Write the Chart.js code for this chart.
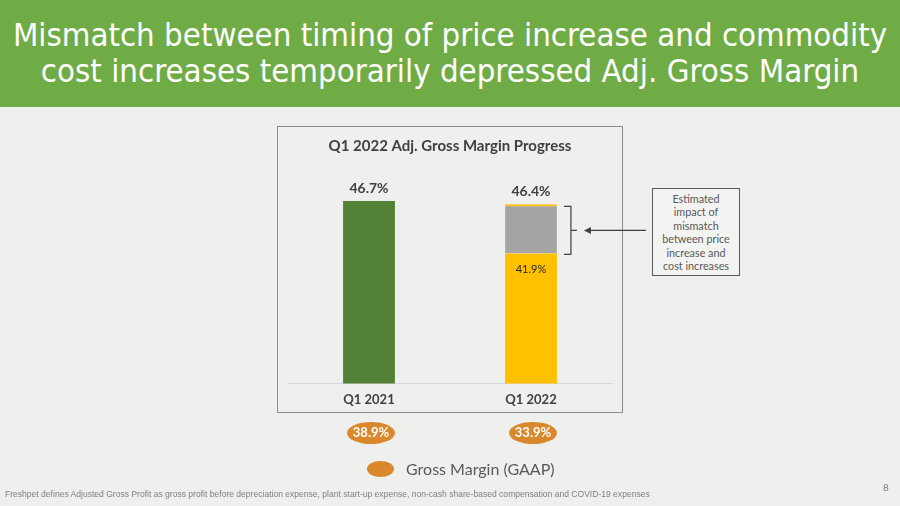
<!DOCTYPE html>
<html>
<head>
<meta charset="utf-8">
<script src="https://cdn.jsdelivr.net/npm/chart.js@4/dist/chart.umd.min.js"></script>
<style>
  html, body { margin: 0; padding: 0; }
  body { width: 900px; height: 506px; position: relative; overflow: hidden; background: #efefed; font-family: Lato, "Open Sans", sans-serif; }
  #header { position: absolute; left: 0; top: 0; width: 900px; height: 107px; background: #6fac46; color: #fff; white-space: nowrap;
    font-family: "DejaVu Sans Condensed", "DejaVu Sans", sans-serif; font-stretch: condensed; font-size: 32.7px; line-height: 36px; text-align: center; padding-top: 17px; box-sizing: border-box; }
  #chartBox { position: absolute; left: 277px; top: 126px; width: 346px; height: 287px; border: 1px solid #8c8c8c; box-sizing: border-box; }
  #wrap { position: absolute; left: 0; top: 0; width: 900px; height: 506px; }
  #note { position: absolute; left: 652px; top: 188px; width: 88px; height: 88px; border: 1px solid #595959; box-sizing: border-box;
    font-size: 10.8px; line-height: 13.4px; color: #595959; text-align: center; padding-top: 3px; background: #f3f3f1; }
  #legend { position: absolute; left: 367px; top: 459px; font-size: 16px; color: #595959; }
  #legend span.dot { display: inline-block; width: 27px; height: 16px; border-radius: 50%; background: #d9892c; vertical-align: -2px; margin-right: 12px; }
  #foot { position: absolute; left: 5px; top: 489px; font-family: "Liberation Sans Narrow", "Liberation Sans", sans-serif; font-size: 8.55px; color: #7f7f7f; white-space: nowrap; }
  #page { position: absolute; left: 883px; top: 481px; font-size: 10px; color: #7f7f7f; }
</style>
</head>
<body>
<div id="header">Mismatch between timing of price increase and commodity<br>cost increases temporarily depressed Adj. Gross Margin</div>
<div id="chartBox"></div>
<div id="wrap"><canvas id="marginChart"></canvas></div>
<div id="note">Estimated<br>impact of<br>mismatch<br>between price<br>increase and<br>cost increases</div>
<div id="legend"><span class="dot"></span>Gross Margin (GAAP)</div>
<div id="foot">Freshpet defines Adjusted Gross Profit as gross profit before depreciation expense, plant start-up expense, non-cash share-based compensation and COVID-19 expenses</div>
<div id="page">8</div>
<script>
const categories = ['Q1 2021', 'Q1 2022'];
const adjMarginBase = [46.7, 41.9];      // green bar / yellow part
const mismatchImpact = [0, 4.5];         // gray part on top of Q1 2022
const gaapMargin = [38.9, 33.9];

const labelPlugin = {
    id: 'labels',
    afterDatasetsDraw(chart) {
        const ctx = chart.ctx;
        const x = chart.scales.x, y = chart.scales.y;
        ctx.save();
        ctx.textAlign = 'center';
        categories.forEach((c, i) => {
            const cx = x.getPixelForValue(i);
            const total = adjMarginBase[i] + mismatchImpact[i];
            // total on top
            ctx.fillStyle = '#404040';
            ctx.font = 'bold 14px Lato';
            ctx.textBaseline = 'bottom';
            ctx.fillText(total.toFixed(1) + '%', cx, y.getPixelForValue(total) - 6);
            // base value inside yellow part
            if (mismatchImpact[i] > 0) {
                ctx.font = '11px Lato';
                ctx.fillStyle = '#262626';
                ctx.textBaseline = 'middle';
                ctx.fillText(adjMarginBase[i].toFixed(1) + '%', cx, y.getPixelForValue(adjMarginBase[i]) + 16);

                // bracket next to gray part
                const meta = chart.getDatasetMeta(1).data[i];
                const bx = meta.x + meta.width / 2 + 7;
                const top = y.getPixelForValue(total) + 2, bot = y.getPixelForValue(adjMarginBase[i]) + 1;
                const mid = (top + bot) / 2;
                ctx.strokeStyle = '#404040';
                ctx.lineWidth = 1.2;
                ctx.beginPath();
                ctx.moveTo(bx, top);
                ctx.lineTo(bx + 7, top);
                ctx.lineTo(bx + 7, mid);
                ctx.lineTo(bx + 13, mid);
                ctx.moveTo(bx + 7, mid);
                ctx.lineTo(bx + 7, bot);
                ctx.lineTo(bx, bot);
                ctx.stroke();
                // arrow from note box
                ctx.beginPath();
                ctx.moveTo(646, mid);
                ctx.lineTo(bx + 24, mid);
                ctx.stroke();
                ctx.fillStyle = '#404040';
                ctx.beginPath();
                ctx.moveTo(bx + 20, mid);
                ctx.lineTo(bx + 27, mid - 3.5);
                ctx.lineTo(bx + 27, mid + 3.5);
                ctx.closePath();
                ctx.fill();
            }
            // GAAP ellipses below the chart box
            ctx.fillStyle = '#d9892c';
            ctx.beginPath();
            ctx.ellipse(cx + 2, 433, 24, 11, 0, 0, Math.PI * 2);
            ctx.fill();
            ctx.fillStyle = '#ffffff';
            ctx.font = 'bold 13px Lato';
            ctx.textBaseline = 'middle';
            ctx.fillText(gaapMargin[i].toFixed(1) + '%', cx + 2, 433);
        });
        ctx.restore();
    }
};

new Chart(document.getElementById('marginChart').getContext('2d'), {
    type: 'bar',
    data: {
        labels: categories,
        datasets: [{
            label: 'Adj. Gross Margin',
            data: adjMarginBase,
            backgroundColor: ['#538135', '#ffc000'],
            borderWidth: 0
        }, {
            label: 'Mismatch impact',
            data: mismatchImpact,
            backgroundColor: '#a5a5a5',
            borderColor: '#ffc000',
            borderWidth: { top: 2, left: 0, right: 0, bottom: 0 },
            borderSkipped: false
        }]
    },
    options: {
        responsive: true,
        maintainAspectRatio: false,
        animation: false,
        layout: { padding: { left: 288, right: 288, top: 137, bottom: 97 } },
        datasets: { bar: { categoryPercentage: 1, barPercentage: 0.32 } },
        plugins: {
            legend: { display: false },
            tooltip: { enabled: false },
            title: {
                display: true,
                text: 'Q1 2022 Adj. Gross Margin Progress',
                color: '#404040',
                font: { family: 'Lato', size: 15, weight: 'bold' },
                padding: { top: 0, bottom: 10 }
            }
        },
        scales: {
            x: {
                stacked: true,
                grid: { display: false },
                border: { color: '#d9d9d9' },
                ticks: { color: '#404040', font: { family: 'Lato', size: 13, weight: 'bold' }, padding: 1 }
            },
            y: {
                stacked: true,
                display: false,
                min: 30,
                max: 50
            }
        }
    },
    plugins: [labelPlugin]
});
</script>
</body>
</html>
